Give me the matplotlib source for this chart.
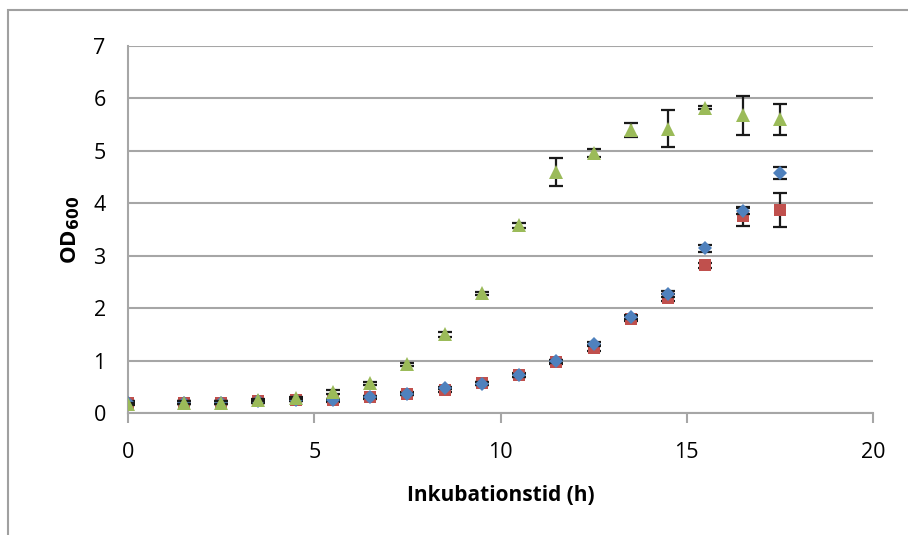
import matplotlib
matplotlib.use("Agg")
import matplotlib.pyplot as plt
from matplotlib.patches import Rectangle

plt.rcParams['font.family'] = ['Open Sans', 'DejaVu Sans']

time_h = [0, 1.5, 2.5, 3.5, 4.5, 5.5, 6.5, 7.5, 8.5, 9.5, 10.5, 11.5, 12.5, 13.5, 14.5, 15.5, 16.5, 17.5]

red_od = [0.2, 0.2, 0.2, 0.22, 0.25, 0.24, 0.3, 0.37, 0.43, 0.57, 0.73, 0.98, 1.24, 1.8, 2.2, 2.82, 3.75, 3.87]
red_err = [0.02, 0.02, 0.02, 0.02, 0.03, 0.03, 0.03, 0.03, 0.03, 0.03, 0.04, 0.04, 0.05, 0.05, 0.07, 0.05, 0.18, 0.32]

blue_od = [0.2, 0.2, 0.2, 0.22, 0.25, 0.25, 0.3, 0.37, 0.47, 0.56, 0.72, 0.99, 1.32, 1.83, 2.27, 3.14, 3.85, 4.58]
blue_err = [0.02, 0.02, 0.02, 0.02, 0.02, 0.02, 0.02, 0.02, 0.02, 0.03, 0.03, 0.03, 0.04, 0.04, 0.06, 0.07, 0.06, 0.12]

green_od = [0.17, 0.2, 0.2, 0.25, 0.28, 0.4, 0.57, 0.93, 1.5, 2.28, 3.58, 4.6, 4.96, 5.4, 5.42, 5.82, 5.68, 5.6]
green_err = [0.02, 0.02, 0.02, 0.02, 0.02, 0.03, 0.03, 0.03, 0.05, 0.03, 0.05, 0.27, 0.07, 0.13, 0.35, 0.03, 0.37, 0.29]

x_ticks = [0, 5, 10, 15, 20]
y_ticks = [0, 1, 2, 3, 4, 5, 6, 7]

fig = plt.figure(figsize=(9.08, 5.35), dpi=100)
ax = fig.add_axes([128/908, 1-413/535, (873-128)/908, (413-46)/535])

grid_c = '#a6a6a6'
series = [
    (red_od, red_err, 's', '#C0504D', 8.5),
    (blue_od, blue_err, 'D', '#4F81BD', 7.5),
    (green_od, green_err, '^', '#9BBB59', 10),
]
for i, (od, err, mk, col, ms) in enumerate(series):
    ax.errorbar(time_h, od, yerr=err, fmt='none', ecolor='#1a1a1a',
                elinewidth=1.6, capsize=5, capthick=1.6, zorder=3 + 2 * i)
    ax.plot(time_h, od, linestyle='none', marker=mk, color=col,
            markersize=ms, markeredgewidth=0, zorder=4 + 2 * i)

ax.set_xlim(0, 20)
ax.set_ylim(0, 7)
ax.set_xticks(x_ticks)
ax.set_yticks(y_ticks)
ax.yaxis.grid(True, color=grid_c, linewidth=1.5)
ax.set_axisbelow(True)
for s in ['top', 'right']:
    ax.spines[s].set_visible(False)
for s in ['left', 'bottom']:
    ax.spines[s].set_color(grid_c)
    ax.spines[s].set_linewidth(1.5)
ax.tick_params(axis='x', direction='out', length=7, width=1.5, color=grid_c,
               labelsize=15.5, pad=14)
ax.tick_params(axis='y', length=0, labelsize=15.5, pad=16)
ax.set_xlabel('Inkubationstid (h)', fontsize=15, fontweight='bold', labelpad=16)
ax.set_ylabel('OD$_{\\mathbf{600}}$', fontsize=16, fontweight='bold', labelpad=8)

fig.patches.append(Rectangle((8/908, -0.1), 1.2, 1-10/535+0.1, transform=fig.transFigure,
                             fill=False, edgecolor='#a0a0a0', linewidth=1.5))

fig.savefig('out.png', dpi=100)
